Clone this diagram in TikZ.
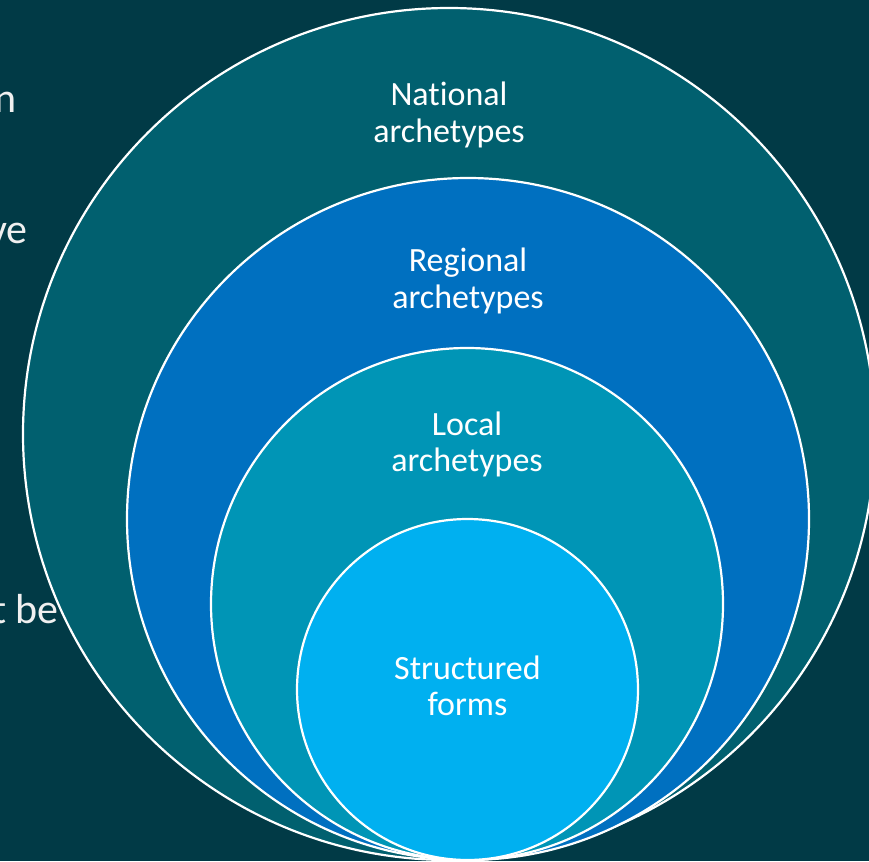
\documentclass[tikz,border=0pt]{standalone}
\usepackage{fontspec}
\setmainfont[Ligatures=NoCommon]{Carlito}

\definecolor{slidebg}{HTML}{013A46}
\definecolor{national}{HTML}{01606F}
\definecolor{regional}{HTML}{0070C0}
\definecolor{local}{HTML}{0095B6}
\definecolor{structured}{HTML}{00B0F0}

\begin{document}
\begin{tikzpicture}[x=1pt,y=-1pt,
    ring/.style={circle,draw=white,line width=2.2pt,inner sep=0pt},
    ringtext/.style={text=white,align=center,font=\fontsize{34}{36.5}\selectfont},
    sidetext/.style={text=white!94!black,anchor=base east,inner sep=0pt,font=\fontsize{42}{50}\selectfont}]
    % Hintergrund
    \fill[slidebg] (0,0) rectangle (869,861);
    \useasboundingbox (0,0) rectangle (869,861);
    \clip (0,0) rectangle (869,861);

    % Textreste links
    \node[sidetext] (restn) at (17,113) {n};
    \node[sidetext] (restve) at (28,243) {ve};
    \node[sidetext] (restbe) at (59,623) {t be};

    % Kreise
    \node[ring,fill=national,minimum size=852pt] (nationalring) at (449,434) {};
    \node[ring,fill=regional,minimum size=682pt] (regionalring) at (468,519) {};
    \node[ring,fill=local,minimum size=512pt] (localring) at (467,604) {};
    \node[ring,fill=structured,minimum size=341pt] (structuredring) at (467.5,689.5) {};

    % Beschriftung
    \node[ringtext] (nationaltext) at (449,115) {National\\archetypes};
    \node[ringtext] (regionaltext) at (468,281) {Regional\\archetypes};
    \node[ringtext] (localtext) at (467,444.3) {Local\\archetypes};
    \node[ringtext] (structuredtext) at (467.5,686) {Structured\\forms};
\end{tikzpicture}
\end{document}
